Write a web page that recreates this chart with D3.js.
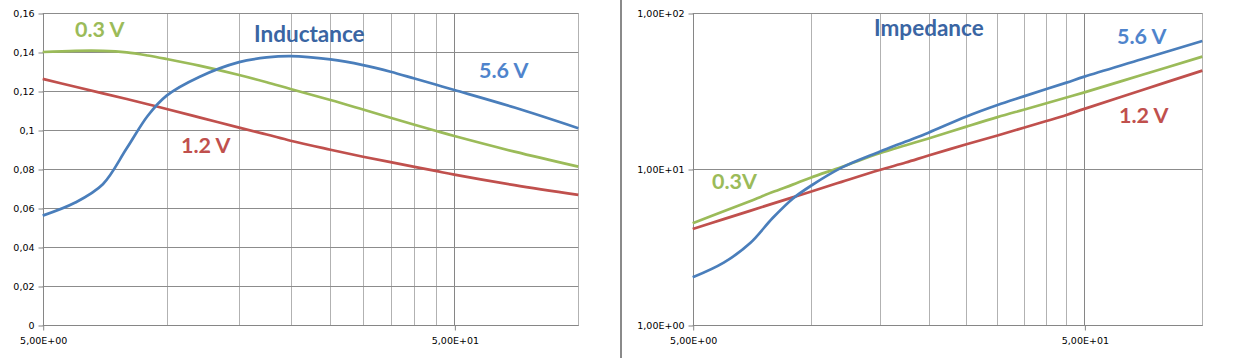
<!DOCTYPE html>
<html><head><meta charset="utf-8">
<script src="https://cdn.jsdelivr.net/npm/d3@7"></script>
<style>
html,body{margin:0;padding:0;background:#fff;}
svg{display:block;}
</style></head>
<body>
<svg id="chart" width="1241" height="358"></svg>
<script>
// ---------- DATA ----------
const freq = [5, 6, 7, 8, 9, 10, 12, 15, 17.5, 20, 25, 30, 35, 40, 45, 50, 70, 100];
// Inductance (left chart)
const ind03 = [0.1400, 0.1406, 0.1406, 0.1398, 0.1382, 0.1364, 0.1330, 0.1282, 0.1245, 0.1210, 0.1154, 0.1105, 0.1063, 0.1027, 0.0996, 0.0969, 0.0889, 0.0812];
const ind12 = [0.1262, 0.1222, 0.1188, 0.1159, 0.1132, 0.1108, 0.1065, 0.1012, 0.0977, 0.0945, 0.0899, 0.0863, 0.0835, 0.0811, 0.0790, 0.0771, 0.0717, 0.0667];
const ind56 = [0.0561, 0.0628, 0.0722, 0.0906, 0.1073, 0.1176, 0.1272, 0.1348, 0.1372, 0.1379, 0.1362, 0.1333, 0.1299, 0.1264, 0.1233, 0.1205, 0.1115, 0.1009];
// Impedance (right chart)
const imp03 = [4.49, 5.36, 6.22, 7.11, 7.94, 8.80, 10.3, 12.6, 14.2, 15.7, 18.7, 21.5, 24.0, 26.4, 28.7, 31.0, 40.0, 52.5];
const imp12 = [4.12, 4.77, 5.39, 6.00, 6.58, 7.15, 8.27, 9.85, 11.0, 12.2, 14.4, 16.4, 18.4, 20.3, 22.2, 24.3, 32.0, 42.7];
const imp56 = [2.02, 2.51, 3.34, 4.85, 6.45, 7.78, 10.2, 12.9, 15.0, 17.1, 21.7, 25.7, 29.2, 32.6, 35.8, 39.1, 50.5, 66.2];

const xGrid = [5, 10, 15, 20, 25, 30, 35, 40, 45, 50, 100];
const xMajor = [5, 50];
const xTickLabels = ["5,00E+00", "5,00E+01"];
const indTicks = [0, 0.02, 0.04, 0.06, 0.08, 0.1, 0.12, 0.14, 0.16];
const indTickLabels = ["0", "0,02", "0,04", "0,06", "0,08", "0,1", "0,12", "0,14", "0,16"];
const impTicks = [1, 10, 100];
const impTickLabels = ["1,00E+00", "1,00E+01", "1,00E+02"];
const seriesNames = ["0.3 V", "1.2 V", "5.6 V"];

// ---------- STYLE ----------
const COL = {g: "#9bbb59", r: "#c0504d", b: "#4a7ebb"};
const svg = d3.select("#chart");
const tickFont = "DejaVu Sans, Verdana, sans-serif";
const lblFont = "Lato, 'Open Sans', sans-serif";

function drawChart(opt) {
  const g = svg.append("g");
  const x = d3.scaleLog().domain([5, 100]).range([opt.x0, opt.x1]);
  const y = opt.y;
  // vertical grid
  g.selectAll(".vg").data(xGrid).join("line")
    .attr("x1", d => Math.round(x(d)) + 0.5).attr("x2", d => Math.round(x(d)) + 0.5)
    .attr("y1", y.range()[1]).attr("y2", y.range()[0])
    .attr("stroke", d => xMajor.includes(d) ? "#868686" : "#b2b2b2").attr("stroke-width", 1);
  // horizontal grid
  g.selectAll(".hg").data(opt.yTicks).join("line")
    .attr("x1", opt.x0).attr("x2", opt.x1)
    .attr("y1", d => Math.round(y(d)) + 0.5).attr("y2", d => Math.round(y(d)) + 0.5)
    .attr("stroke", "#8c8c8c").attr("stroke-width", 1);
  // y axis
  const ya = d3.axisLeft(y).tickValues(opt.yTicks).tickSize(5).tickPadding(4)
    .tickFormat((d, i) => opt.yLabels[i]);
  const yg = g.append("g").attr("transform", `translate(${Math.round(opt.x0) + 0.5},0.5)`).call(ya);
  yg.select(".domain").attr("stroke", "#868686").attr("d", `M0,${y.range()[1]}V${y.range()[0]}`);
  yg.selectAll(".tick line").attr("stroke", "#868686");
  yg.selectAll("text").attr("font-family", tickFont).attr("font-size", "9.5px").attr("fill", "#000");
  // x axis
  const xa = d3.axisBottom(x).tickValues(xMajor).tickSize(5).tickPadding(7)
    .tickFormat((d, i) => xTickLabels[i]);
  const xg = g.append("g").attr("transform", `translate(0.5,${Math.round(y.range()[0]) + 0.5})`).call(xa);
  xg.select(".domain").attr("stroke", "#868686").attr("d", `M${opt.x0},0H${opt.x1}`);
  xg.selectAll(".tick line").attr("stroke", "#868686");
  xg.selectAll("text").attr("font-family", tickFont).attr("font-size", "9.5px").attr("fill", "#000");
  // lines
  const line = d3.line().x((d, i) => x(freq[i])).y(d => y(d)).curve(d3.curveCatmullRom.alpha(0.5));
  opt.series.forEach(s => {
    g.append("path").attr("d", line(s.v)).attr("fill", "none")
      .attr("stroke", s.c).attr("stroke-width", 2.7).attr("stroke-linejoin", "round");
  });
  return g;
}

drawChart({
  x0: 42.7, x1: 578.3,
  y: d3.scaleLinear().domain([0, 0.16]).range([325, 13]),
  yTicks: indTicks, yLabels: indTickLabels,
  series: [{v: ind12, c: COL.r}, {v: ind03, c: COL.g}, {v: ind56, c: COL.b}]
});
drawChart({
  x0: 692.7, x1: 1202.3,
  y: d3.scaleLog().domain([1, 100]).range([325, 13]),
  yTicks: impTicks, yLabels: impTickLabels,
  series: [{v: imp12, c: COL.r}, {v: imp03, c: COL.g}, {v: imp56, c: COL.b}]
});

// divider
svg.append("rect").attr("x", 620).attr("y", 0).attr("width", 2).attr("height", 358).attr("fill", "#8a8a8a");

// labels
function label(txt, x, y, col, size) {
  svg.append("text").attr("x", x).attr("y", y).text(txt)
    .attr("font-family", lblFont).attr("font-weight", "bold")
    .attr("font-size", (size || 21.5) + "px").attr("fill", col);
}
label("Inductance", 254, 42, "#3a65a3", 22.5);
label(seriesNames[0], 75, 36.5, COL.g);
label(seriesNames[1], 181, 153, COL.r);
label(seriesNames[2], 479, 78, "#4f84cc");
label("Impedance", 874, 36, "#3a65a3", 22.5);
label(seriesNames[2], 1117, 44, "#4f84cc");
label(seriesNames[1], 1119, 123, COL.r);
label("0.3V", 712, 189, COL.g);
</script>
</body></html>
